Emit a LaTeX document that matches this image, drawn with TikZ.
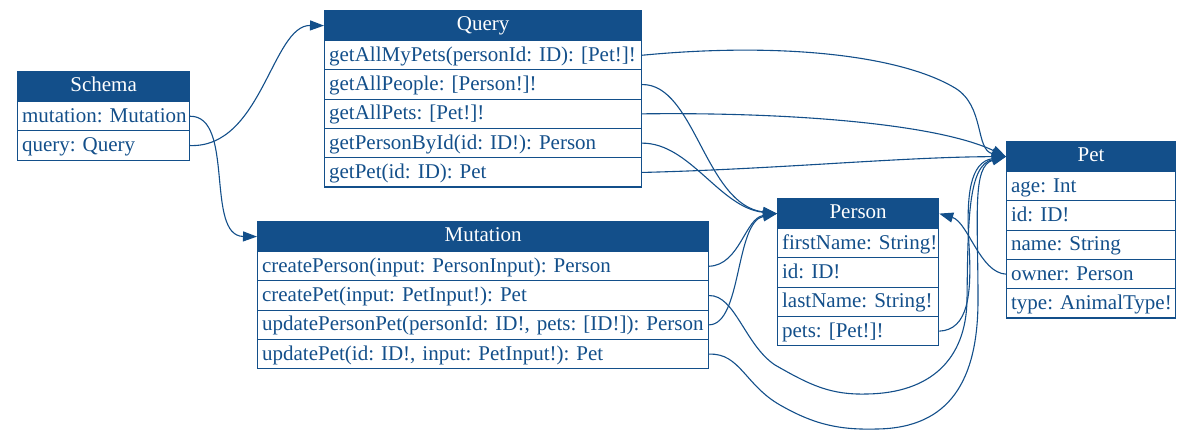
\documentclass[tikz,border=0pt]{standalone}
\usepackage{fontspec}
\setmainfont{Liberation Serif}
\usetikzlibrary{arrows.meta}
\definecolor{gblue}{RGB}{19,79,138}
\frenchspacing
\tikzset{
  hdr/.style={fill=gblue, draw=gblue, line width=1.2pt, text=white, anchor=north west,
    minimum height=30pt, inner sep=0pt, text height=15pt, text depth=5pt,
    font=\fontsize{21}{25}\selectfont\frenchspacing},
  cell/.style={draw=gblue, line width=1.2pt, text=gblue, anchor=north west,
    minimum height=29.3pt, inner xsep=4.5pt, inner ysep=0pt, text height=16pt, text depth=4pt,
    font=\fontsize{21}{25}\selectfont\frenchspacing},
  edge/.style={draw=gblue, line width=1.1pt, -{Triangle[length=14pt,width=10pt]}}
}
\begin{document}
\begin{tikzpicture}[x=1pt,y=-1pt]
\useasboundingbox (0,0) rectangle (1191,435);
% Schema
\node[hdr, minimum width=172pt] (schema) at (17,71) {Schema};
\node[cell, text width=163pt] (s-mut) at (17,101) {\mbox{mutation: Mutation}};
\node[cell, text width=163pt] (s-qry) at (17,130.3) {query: Query};
% Query
\node[hdr, minimum width=317pt] (query) at (324,10) {Query};
\node[cell, text width=308pt] (q1) at (324,40) {\mbox{getAllMyPets(personId: ID): [Pet!]!}};
\node[cell, text width=308pt] (q2) at (324,69.3) {getAllPeople: [Person!]!};
\node[cell, text width=308pt] (q3) at (324,98.6) {getAllPets: [Pet!]!};
\node[cell, text width=308pt] (q4) at (324,127.9) {getPersonById(id: ID!): Person};
\node[cell, text width=308pt] (q5) at (324,157.2) {getPet(id: ID): Pet};
% Mutation
\node[hdr, minimum width=451pt] (mutation) at (257,221) {Mutation};
\node[cell, text width=442pt] (m1) at (257,251) {\mbox{createPerson(input: PersonInput): Person}};
\node[cell, text width=442pt] (m2) at (257,280.3) {\mbox{createPet(input: PetInput!): Pet}};
\node[cell, text width=442pt] (m3) at (257,309.6) {\mbox{updatePersonPet(personId: ID!, pets: [ID!]): Person}};
\node[cell, text width=442pt] (m4) at (257,338.9) {\mbox{updatePet(id: ID!, input: PetInput!): Pet}};
% Person
\node[hdr, minimum width=161pt] (person) at (777,198) {Person};
\node[cell, text width=152pt] (pe1) at (777,228) {\mbox{firstName: String!}};
\node[cell, text width=152pt] (pe2) at (777,257.3) {id: ID!};
\node[cell, text width=152pt] (pe3) at (777,286.6) {\mbox{lastName: String!}};
\node[cell, text width=152pt] (pe4) at (777,315.9) {pets: [Pet!]!};
% Pet
\node[hdr, minimum width=169pt] (pet) at (1006,141) {Pet};
\node[cell, text width=160pt] (pt1) at (1006,171) {age: Int};
\node[cell, text width=160pt] (pt2) at (1006,200.3) {id: ID!};
\node[cell, text width=160pt] (pt3) at (1006,229.6) {name: String};
\node[cell, text width=160pt] (pt4) at (1006,258.9) {owner: Person};
\node[cell, text width=160pt] (pt5) at (1006,288.2) {\mbox{type: AnimalType!}};
% Edges
\draw[edge] (s-mut.east) .. controls (235,116) and (205,236) .. (mutation.west);
\draw[edge] (s-qry.east) .. controls (262,148) and (272,25) .. (query.west);
\draw[edge] (q1.east) .. controls (780,42) and (900,55) .. (955,88) .. controls (985,106) and (975,150) .. (pet.west);
\draw[edge] (q2.east) .. controls (695,84) and (705,205) .. (person.west);
\draw[edge] (q3.east) .. controls (800,112) and (940,125) .. (pet.west);
\draw[edge] (q4.east) .. controls (690,143) and (720,208) .. (person.west);
\draw[edge] (q5.east) .. controls (780,169) and (900,157) .. (pet.west);
\draw[edge] (m1.east) .. controls (740,265) and (745,218) .. (person.west);
\draw[edge] (m2.east) .. controls (735,295) and (745,345) .. (775,365) .. controls (810,385) and (830,395) .. (867,394) .. controls (930,393) and (966,360) .. (967,300) .. controls (968,220) and (968,165) .. (pet.west);
\draw[edge] (m3.east) .. controls (742,324) and (735,222) .. (person.west);
\draw[edge] (m4.east) .. controls (740,353) and (745,385) .. (780,405) .. controls (815,425) and (840,430) .. (877,429) .. controls (950,428) and (978,380) .. (978,300) .. controls (978,215) and (972,166) .. (pet.west);
\draw[edge] (pe4.east) .. controls (968,330) and (972,295) .. (969,245) .. controls (966,195) and (970,162) .. (pet.west);
\draw[edge] (pt4.west) .. controls (980,273) and (968,222) .. (person.east);
\end{tikzpicture}
\end{document}
